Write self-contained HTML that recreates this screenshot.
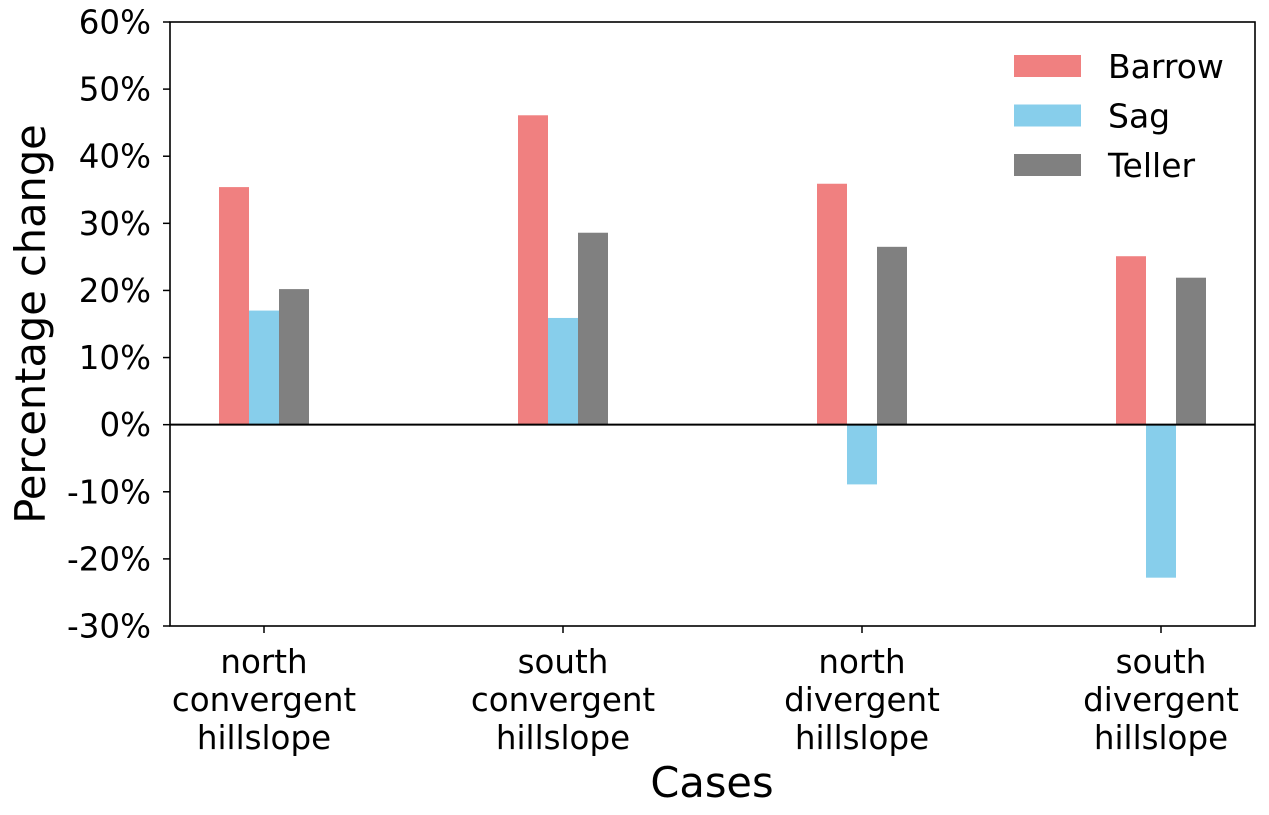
<!DOCTYPE html>
<html><head><meta charset="utf-8"><style>
body{margin:0;background:#fff;}
text{font-family:"DejaVu Sans","Liberation Sans",sans-serif;fill:#000;}
</style></head><body>
<svg id="chart" width="1269" height="810" xmlns="http://www.w3.org/2000/svg"></svg>
<script>
const categories=[["north","convergent","hillslope"],["south","convergent","hillslope"],["north","divergent","hillslope"],["south","divergent","hillslope"]];
const seriesNames=["Barrow","Sag","Teller"];
const barrow=[35.4,46.1,35.9,25.1];
const sag=[17.0,15.9,-8.9,-22.8];
const teller=[20.2,28.6,26.5,21.9];
const yTicks=[-30,-20,-10,0,10,20,30,40,50,60];
const colors=["#f08080","#87ceeb","#808080"];
const series=[barrow,sag,teller];
const L=170,R=1255,T=22,B=626,yMin=-30,yMax=60;
const ns="http://www.w3.org/2000/svg";
const svg=document.getElementById('chart');
const y=v=>B-(v-yMin)/(yMax-yMin)*(B-T);
const xc=i=>264+i*299;
const bw=30;
function mk(tag,attrs,parent){const e=document.createElementNS(ns,tag);for(const k in attrs)e.setAttribute(k,attrs[k]);(parent||svg).appendChild(e);return e;}
series.forEach((s,si)=>{s.forEach((v,i)=>{
 const x=xc(i)+(si-1)*bw-bw/2;
 const r=mk('rect',{x:x,y:Math.min(y(v),y(0)),width:bw,height:Math.abs(y(v)-y(0)),fill:colors[si]});
 
 
});});
const zl=mk('line',{x1:L,x2:R,y1:y(0),y2:y(0),stroke:'#000','stroke-width':2});


const fr=mk('rect',{x:L,y:T,width:R-L,height:B-T,fill:'none',stroke:'#000','stroke-width':1.6});


yTicks.forEach(t=>{
 mk('line',{x1:L-7,x2:L,y1:y(t),y2:y(t),stroke:'#000','stroke-width':1.5});
 const tx=mk('text',{x:L-19,y:y(t)+11.5,'text-anchor':'end','font-size':32.5});
 tx.textContent=t+'%';
 
 
});
categories.forEach((c,i)=>{
 mk('line',{x1:xc(i),x2:xc(i),y1:B,y2:B+7,stroke:'#000','stroke-width':1.5});
 c.forEach((w,j)=>{
  const tx=mk('text',{x:xc(i),y:673+j*38,'text-anchor':'middle','font-size':32.5});
  tx.textContent=w;
  
  
 });
});
const xt=mk('text',{x:712,y:797,'text-anchor':'middle','font-size':41.5});
xt.textContent='Cases';


const yt=mk('text',{x:0,y:0,'text-anchor':'middle','font-size':41.5,transform:'translate(45,324) rotate(-90)'});
yt.textContent='Percentage change';


seriesNames.forEach((n,i)=>{
 const g=mk('g',{});
 
 
 mk('rect',{x:1014,y:55+i*49.5,width:67,height:22,fill:colors[i]},g);
 const tx=mk('text',{x:1108,y:78+i*49.5,'font-size':33},g);
 tx.textContent=n;
});
</script>
</body></html>
